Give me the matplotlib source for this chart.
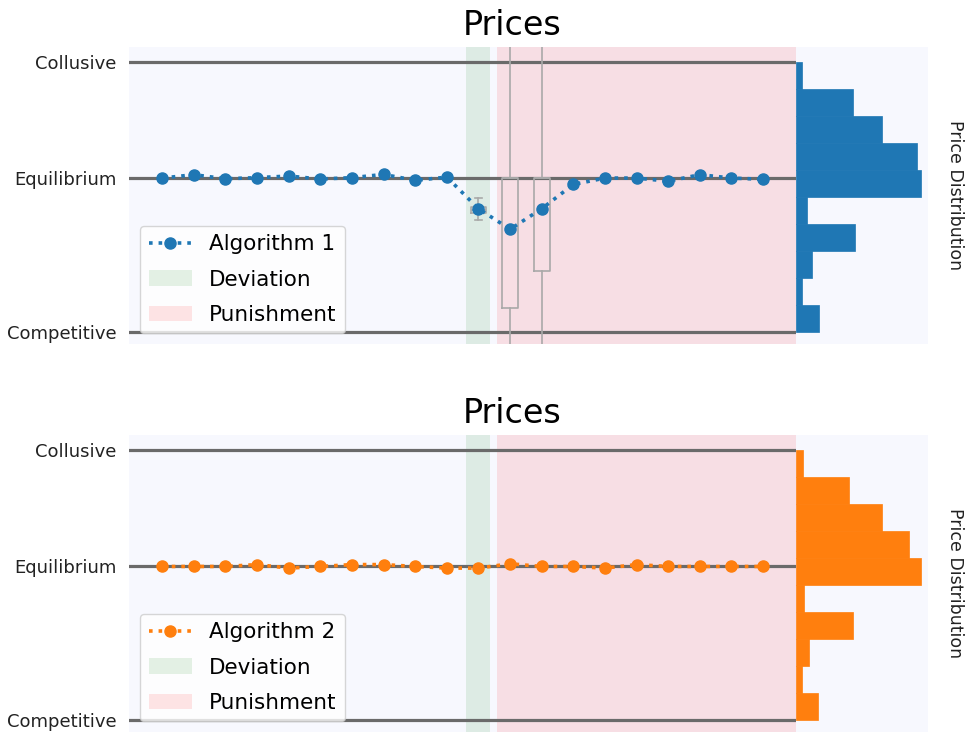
import matplotlib
matplotlib.use("Agg")
import matplotlib.pyplot as plt
import numpy as np

# Reference price levels (normalised: competitive = 0, collusive = 1)
price_levels = [0.0, 0.5715, 1.0]
price_level_names = ["Competitive", "Equilibrium", "Collusive"]

steps = list(range(20))
deviation_step = 10

algo1_prices = [0.5715, 0.584, 0.569, 0.573, 0.579, 0.568, 0.573, 0.585, 0.563, 0.575,
                0.458, 0.382, 0.458, 0.548, 0.5715, 0.5715, 0.560, 0.584, 0.5715, 0.567]
algo2_prices = [0.570, 0.570, 0.570, 0.577, 0.564, 0.570, 0.577, 0.577, 0.570, 0.564,
                0.564, 0.580, 0.570, 0.570, 0.564, 0.577, 0.570, 0.570, 0.570, 0.570]

# Spread of algorithm 1 prices around the deviation (steps 10-12)
box_steps = [10, 11, 12]
box_q1 = [0.441, 0.089, 0.226]
box_med = [0.452, 0.5715, 0.5715]
box_q3 = [0.463, 0.5715, 0.5715]
box_low = [0.415, -0.15, -0.15]
box_high = [0.496, 1.15, 1.15]

# Price distribution histograms (10 bins from competitive to collusive)
bin_edges = [0.0, 0.1, 0.2, 0.3, 0.4, 0.5, 0.6, 0.7, 0.8, 0.9, 1.0]
algo1_hist = [18.8, 4.8, 13.2, 47.0, 8.8, 100.0, 96.8, 68.5, 45.9, 4.8]
algo2_hist = [18.0, 4.8, 10.8, 45.6, 6.6, 100.0, 90.0, 68.5, 42.7, 6.1]

series = [
    ("Algorithm 1", algo1_prices, algo1_hist, "#1f77b4", True),
    ("Algorithm 2", algo2_prices, algo2_hist, "#ff7f0e", False),
]

W, H = 965, 733
fig = plt.figure(figsize=(W / 100, H / 100), dpi=100)

bg = "#f7f8fe"
left, main_right, hist_right = 129.3 / W, 795.7 / W, 927.7 / W
panel_tops = [46.7, 434.7]
panel_h = 297.3
title_baselines = [35.0, 423.0]

for (label, prices, hist, color, with_boxes), top, tb in zip(series, panel_tops, title_baselines):
    bottom = 1 - (top + panel_h) / H
    height = panel_h / H
    ax = fig.add_axes([left, bottom, main_right - left, height])
    hax = fig.add_axes([main_right, bottom, hist_right - main_right, height], sharey=ax)

    for a in (ax, hax):
        a.set_facecolor(bg)
        for s in a.spines.values():
            s.set_visible(False)

    ax.axvspan(deviation_step - 0.4, deviation_step + 0.37, color="green", alpha=0.1,
               lw=0, label="Deviation", zorder=0)
    ax.axvspan(deviation_step + 0.57, 21, color="red", alpha=0.1, lw=0,
               label="Punishment", zorder=0)

    for lvl in price_levels:
        ax.axhline(lvl, color="#6a6a6a", lw=2.3, zorder=1)

    if with_boxes:
        stats = [dict(q1=q1, med=md, q3=q3, whislo=lo, whishi=hi, fliers=[])
                 for q1, md, q3, lo, hi in zip(box_q1, box_med, box_q3, box_low, box_high)]
        gray = dict(color="#a9a9a9", lw=1.2)
        ax.bxp(stats, positions=box_steps, widths=0.5, showfliers=False,
               boxprops=gray, whiskerprops=gray, capprops=gray,
               medianprops=gray, manage_ticks=False, zorder=2)

    ax.plot(steps, prices, linestyle=":", marker="o", color=color, lw=2.6,
            markersize=8, label=label, zorder=3)

    ax.set_xlim(-1.04, 20.03)
    ax.set_ylim(-0.043, 1.058)
    ax.set_xticks([])
    ax.set_yticks(price_levels)
    ax.set_yticklabels(price_level_names, fontsize=13)
    ax.tick_params(axis="y", length=0, pad=9, labelcolor="#222222")

    handles, labels = ax.get_legend_handles_labels()
    order = [labels.index(label), labels.index("Deviation"), labels.index("Punishment")]
    ax.legend([handles[i] for i in order], [labels[i] for i in order],
              loc="lower left", fontsize=15.5, labelspacing=0.7)

    centers = [(a + b) / 2 for a, b in zip(bin_edges[:-1], bin_edges[1:])]
    hax.barh(centers, hist, height=0.1, color=color, edgecolor=color, lw=0.5)
    hax.set_xticks([])
    hax.tick_params(axis="y", left=False, labelleft=False)
    hax.yaxis.set_label_position("right")
    hax.set_ylabel("Price Distribution", rotation=270, fontsize=12.5, labelpad=26,
                   color="#222222")

    fig.text(512.5 / W, 1 - tb / H, "Prices", ha="center", va="baseline", fontsize=24)

fig.savefig("out.png", dpi=100)
